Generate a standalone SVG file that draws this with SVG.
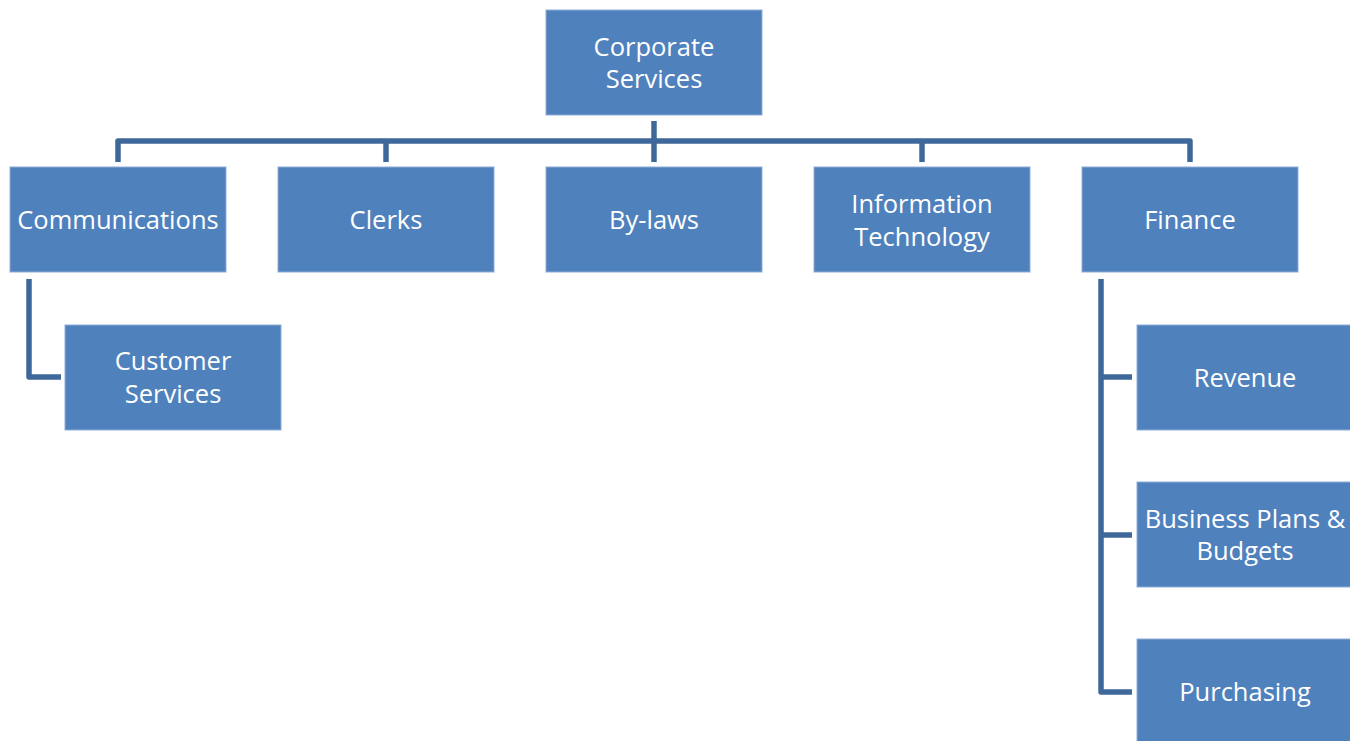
<svg xmlns="http://www.w3.org/2000/svg" width="1350" height="741" viewBox="0 0 1350 741">
  <style>
    .box { fill: #4F81BD; stroke: #8FADD6; stroke-width: 1; }
    .lbl { fill: #FFFFFF; font-family: "Open Sans", "Noto Sans", "Liberation Sans", sans-serif; font-size: 25.5px; text-anchor: middle; dominant-baseline: central; }
    .link { fill: none; stroke: #3E6899; stroke-width: 5.5; stroke-linejoin: round; }
  </style>
  <rect width="1350" height="741" fill="#FFFFFF"/>

  <!-- connectors -->
  <g id="connectors">
    <path class="link" d="M654 121 V162"/>
    <path class="link" d="M118 162 V141 H1190 V162"/>
    <path class="link" d="M386 141 V162"/>
    <path class="link" d="M922 141 V162"/>
    <path class="link" d="M29 279 V377 H61"/>
    <path class="link" d="M1101 279 V692 H1132"/>
    <path class="link" d="M1101 377 H1132"/>
    <path class="link" d="M1101 535 H1132"/>
  </g>

  <!-- top level -->
  <g id="corporate-services">
    <rect class="box" x="546" y="10" width="216" height="105"/>
    <text class="lbl" x="654" y="46">Corporate</text>
    <text class="lbl" x="654" y="78">Services</text>
  </g>

  <!-- departments -->
  <g id="communications">
    <rect class="box" x="10" y="167" width="216" height="105"/>
    <text class="lbl" x="118" y="219">Communications</text>
  </g>
  <g id="clerks">
    <rect class="box" x="278" y="167" width="216" height="105"/>
    <text class="lbl" x="386" y="219">Clerks</text>
  </g>
  <g id="by-laws">
    <rect class="box" x="546" y="167" width="216" height="105"/>
    <text class="lbl" x="654" y="219">By-laws</text>
  </g>
  <g id="information-technology">
    <rect class="box" x="814" y="167" width="216" height="105"/>
    <text class="lbl" x="922" y="203">Information</text>
    <text class="lbl" x="922" y="236">Technology</text>
  </g>
  <g id="finance">
    <rect class="box" x="1082" y="167" width="216" height="105"/>
    <text class="lbl" x="1190" y="219">Finance</text>
  </g>

  <!-- sub-units -->
  <g id="customer-services">
    <rect class="box" x="65" y="325" width="216" height="105"/>
    <text class="lbl" x="173" y="360">Customer</text>
    <text class="lbl" x="173" y="393">Services</text>
  </g>
  <g id="revenue">
    <rect class="box" x="1137" y="325" width="216" height="105"/>
    <text class="lbl" x="1245" y="377">Revenue</text>
  </g>
  <g id="business-plans-budgets">
    <rect class="box" x="1137" y="482" width="216" height="105"/>
    <text class="lbl" x="1245" y="518">Business Plans &amp;</text>
    <text class="lbl" x="1245" y="550">Budgets</text>
  </g>
  <g id="purchasing">
    <rect class="box" x="1137" y="639" width="216" height="105"/>
    <text class="lbl" x="1245" y="691">Purchasing</text>
  </g>
</svg>
